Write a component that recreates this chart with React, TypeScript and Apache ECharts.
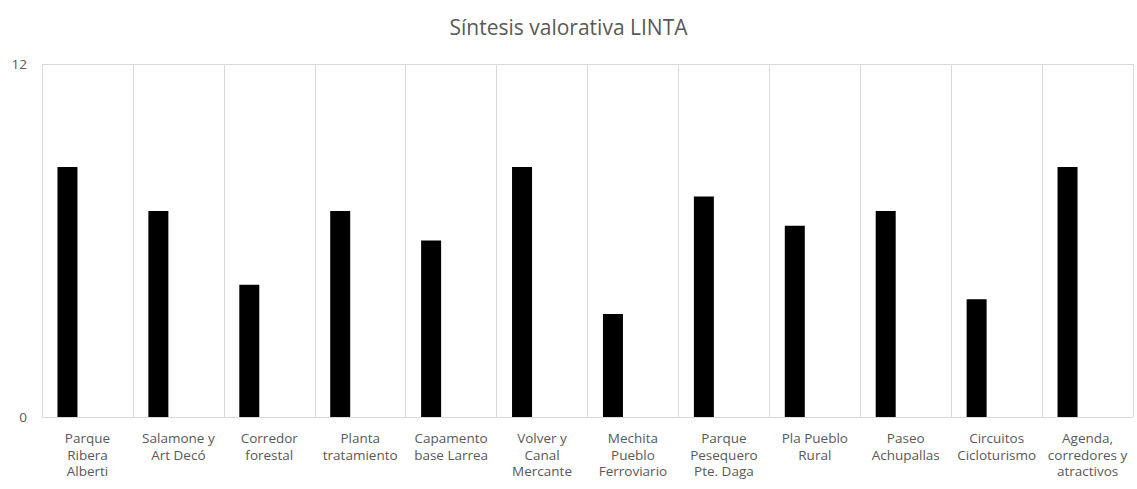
import React, { useEffect, useRef } from "react";
import * as echarts from "echarts";

const categories = [
  "Parque\nRibera\nAlberti",
  "Salamone y\nArt Decó",
  "Corredor\nforestal",
  "Planta\ntratamiento",
  "Capamento\nbase Larrea",
  "Volver y\nCanal\nMercante",
  "Mechita\nPueblo\nFerroviario",
  "Parque\nPesequero\nPte. Daga",
  "Pla Pueblo\nRural",
  "Paseo\nAchupallas",
  "Circuitos\nCicloturismo",
  "Agenda,\ncorredores y\natractivos",
];
const values = [8.5, 7, 4.5, 7, 6, 8.5, 3.5, 7.5, 6.5, 7, 4, 8.5];
const emptySeries = categories.map(() => null);
const yTicks = [0, 12];

export default function App() {
  const ref = useRef<HTMLDivElement>(null);
  useEffect(() => {
    document.body.style.margin = "0";
    const chart = echarts.init(ref.current!, null, { renderer: "svg" });
    const font = "'Open Sans', sans-serif";
    chart.setOption({
      animation: false,
      backgroundColor: "#ffffff",
      title: {
        text: "Síntesis valorativa LINTA",
        left: "center",
        top: 11,
        textStyle: { fontFamily: font, fontSize: 21, fontWeight: "normal", color: "#595959" },
      },
      grid: { left: 42, right: 4, top: 64, bottom: 72, containLabel: false },
      xAxis: {
        type: "category",
        data: categories,
        axisLine: { show: true, lineStyle: { color: "#d9d9d9", width: 1 } },
        axisTick: { show: false },
        splitLine: { show: true, lineStyle: { color: "#d9d9d9", width: 1 } },
        axisLabel: {
          interval: 0,
          fontFamily: font,
          fontSize: 13.5,
          color: "#595959",
          lineHeight: 16.5,
          margin: 13,
        },
      },
      yAxis: {
        type: "value",
        min: yTicks[0],
        max: yTicks[1],
        interval: 12,
        axisLine: { show: false },
        axisTick: { show: false },
        splitLine: { show: true, lineStyle: { color: "#d9d9d9", width: 1 } },
        axisLabel: { fontFamily: font, fontSize: 13.5, color: "#595959", margin: 15 },
      },
      series: [
        {
          type: "bar",
          data: values,
          barWidth: 20,
          barGap: "100%",
          itemStyle: { color: "#000000" },
        },
        {
          type: "bar",
          data: emptySeries,
          barWidth: 20,
          itemStyle: { color: "#000000" },
        },
      ],
    });
    return () => chart.dispose();
  }, []);
  return <div ref={ref} style={{ width: 1137, height: 489 }} />;
}
